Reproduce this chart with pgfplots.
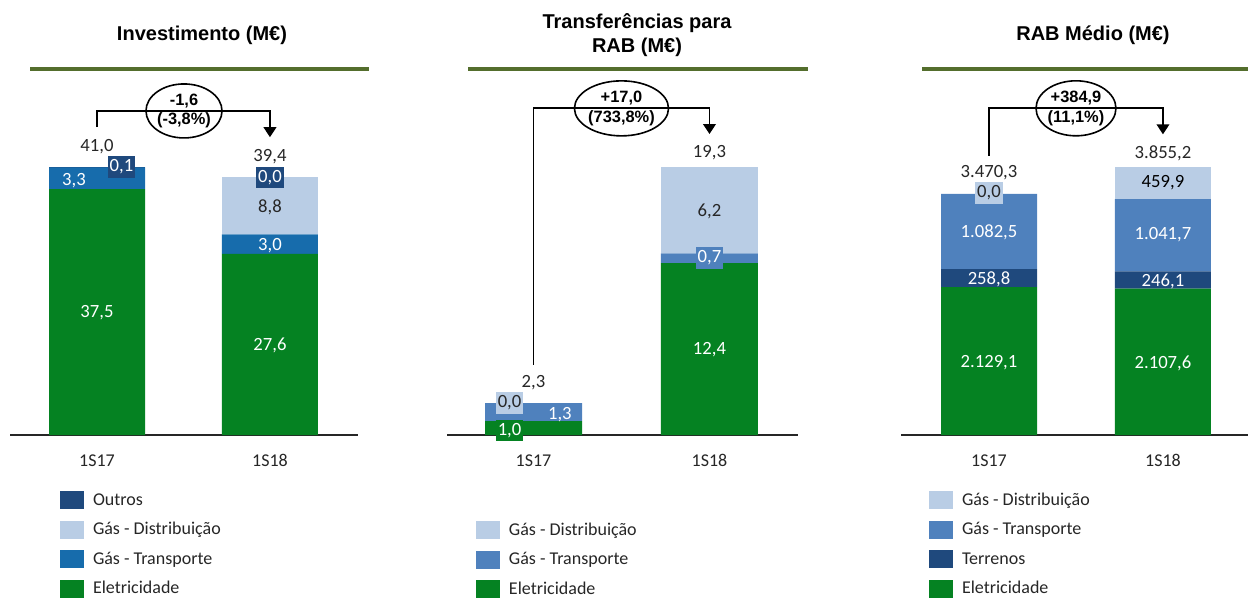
\documentclass[border=0pt]{standalone}
\usepackage{pgfplots}
\pgfplotsset{compat=1.18}
\usepackage{fontspec}
\setmainfont{Carlito}
\newfontfamily\arialf{Liberation Sans}
\usetikzlibrary{shapes.geometric,arrows.meta}

\definecolor{cGreen}{RGB}{5,130,34}
\definecolor{cTransA}{RGB}{23,108,172}
\definecolor{cTrans}{RGB}{79,129,189}
\definecolor{cDist}{RGB}{185,205,229}
\definecolor{cNavy}{RGB}{31,73,125}
\definecolor{cOlive}{RGB}{84,110,45}
\definecolor{cText}{RGB}{38,38,38}

\pgfplotsset{
  panel/.style={
    scale only axis, clip=false,
    ybar stacked, ymin=0, enlargelimits=false,
    axis y line=none, ytick=\empty, scaled y ticks=false,
    axis x line*=bottom,
    x axis line style={-, line width=1.4pt, color=black!85},
    xtick={0,1}, xticklabels={1S17,1S18},
    major tick length=0pt,
    xticklabel style={font=\fontsize{13.5}{16}\selectfont, text=cText, anchor=base, yshift=-23.9pt},
    legend cell align=left,
    reverse legend,
    legend style={draw=none, fill=none, inner sep=0pt, outer sep=0pt, anchor=north west,
      font=\fontsize{13.5}{16}\selectfont, row sep=8.6pt, column sep=6.75pt,
      nodes={inner sep=0pt, text=cText}},
    legend image code/.code={\fill[#1,draw=none] (0pt,-6.75pt) rectangle (18pt,6.75pt);},
  },
}
\tikzset{
  lbl/.style={font=\fontsize{14}{16}\selectfont, text=cText, inner sep=0pt},
  wlbl/.style={lbl, text=white},
  bx/.style={lbl, minimum width=20.5pt, minimum height=16pt, inner sep=0pt},
  ell/.style={draw=black, line width=1.2pt, fill=white, ellipse, inner sep=0pt, align=center,
    font=\arialf\bfseries\fontsize{12.3}{14.5}\selectfont},
  brk/.style={line width=1.3pt, -{Triangle[width=9.5pt,length=7.5pt]}},
  titlef/.style={font=\arialf\bfseries\fontsize{15}{18}\selectfont, text=black, align=center},
}

\begin{document}
\begin{tikzpicture}
\useasboundingbox (0,0) rectangle (936pt,447.75pt);

% ---------- Panel 1: Investimento ----------
\begin{axis}[panel, at={(7.5pt,121.5pt)}, anchor=south west,
  width=261pt, height=246pt, xmin=-0.503, xmax=1.509, ymax=50, bar width=72pt,
  legend style={at={(0.1437,-0.1715)}}]
\addplot[fill=cGreen, draw=none] coordinates {(0,37.5) (1,27.6)};
\addlegendentry{Eletricidade}
\addplot[fill=cTransA, draw=none] coordinates {(0,3.3) (1,3.0)};
\addlegendentry{Gás - Transporte}
\addplot[fill=cDist, draw=none] coordinates {(0,0.0) (1,8.8)};
\addlegendentry{Gás - Distribuição}
\addplot[fill=cNavy, draw=none] coordinates {(0,0.1) (1,0.0)};
\addlegendentry{Outros}
\coordinate (A1) at (axis cs:0,43.9);
\coordinate (A2) at (axis cs:1,42.4);
\coordinate (A3) at (axis cs:0,18.6);
\coordinate (A4) at (axis cs:-0.133,38.7);
\coordinate (A5) at (axis cs:0.1416,40.85);
\coordinate (A6) at (axis cs:1,13.6);
\coordinate (A7) at (axis cs:1,28.8);
\coordinate (A8) at (axis cs:1,34.75);
\coordinate (A9) at (axis cs:1,39.25);
\draw[brk] (axis cs:0,46.95) |- (axis cs:1,49.4) -- (axis cs:1,45.4);
\node[ell, minimum width=54pt, minimum height=40.5pt] at (axis cs:0.503,49.4) {-1,6\\(-3,8\%)};
\end{axis}
\node[lbl] at (A1) {41,0};
\node[lbl] at (A2) {39,4};
\node[wlbl] at (A3) {37,5};
\node[wlbl] at (A4) {3,3};
\node[bx, fill=cNavy, text=white] at (A5) {0,1};
\node[wlbl] at (A6) {27,6};
\node[wlbl] at (A7) {3,0};
\node[lbl] at (A8) {8,8};
\node[bx, fill=cNavy, text=white] at (A9) {0,0};

% ---------- Panel 2: Transferencias ----------
\begin{axis}[panel, at={(335.25pt,121.5pt)}, anchor=south west,
  width=263.25pt, height=260.06pt, xmin=-0.4915, xmax=1.503, ymax=25, bar width=72.75pt,
  legend style={at={(0.0826,-0.249)}}]
\addplot[fill=cGreen, draw=none] coordinates {(0,1.0) (1,12.4)};
\addlegendentry{Eletricidade}
\addplot[fill=cTrans, draw=none] coordinates {(0,1.3) (1,0.7)};
\addlegendentry{Gás - Transporte}
\addplot[fill=cDist, draw=none] coordinates {(0,0.0) (1,6.2)};
\addlegendentry{Gás - Distribuição}
\coordinate (B1) at (axis cs:0,3.75);
\coordinate (B2) at (axis cs:1,20.33);
\coordinate (B3) at (axis cs:1,6.13);
\coordinate (B4) at (axis cs:1,16.15);
\coordinate (B5) at (axis cs:1,12.76);
\coordinate (B6) at (axis cs:0.15,1.44);
\coordinate (B7) at (axis cs:-0.136,2.31);
\coordinate (B8) at (axis cs:-0.136,0.32);
\draw[brk] (axis cs:0,5.05) |- (axis cs:1,23.55) -- (axis cs:1,21.7);
\node[ell, minimum width=68.25pt, minimum height=41.25pt] at (axis cs:0.5,23.55) {+17,0\\(733,8\%)};
\end{axis}
\node[lbl] at (B1) {2,3};
\node[lbl] at (B2) {19,3};
\node[wlbl] at (B3) {12,4};
\node[lbl] at (B4) {6,2};
\node[bx, fill=cTrans, text=white] at (B5) {0,7};
\node[wlbl] at (B6) {1,3};
\node[bx, fill=cDist] at (B7) {0,0};
\node[bx, fill=cGreen, text=white] at (B8) {1,0};

% ---------- Panel 3: RAB Medio ----------
\begin{axis}[panel, at={(675.75pt,121.5pt)}, anchor=south west,
  width=260.25pt, height=260.6pt, xmin=-0.506, xmax=1.489, ymax=5000, bar width=72pt,
  legend style={at={(0.0807,-0.162)}}]
\addplot[fill=cGreen, draw=none] coordinates {(0,2129.1) (1,2107.6)};
\addlegendentry{Eletricidade}
\addplot[fill=cNavy, draw=none] coordinates {(0,258.8) (1,246.1)};
\addlegendentry{Terrenos}
\addplot[fill=cTrans, draw=none] coordinates {(0,1082.5) (1,1041.7)};
\addlegendentry{Gás - Transporte}
\addplot[fill=cDist, draw=none] coordinates {(0,0.0) (1,459.9)};
\addlegendentry{Gás - Distribuição}
\coordinate (C1) at (axis cs:0,3770);
\coordinate (C2) at (axis cs:1,4058);
\coordinate (C3) at (axis cs:0,3482);
\coordinate (C4) at (axis cs:0,2921);
\coordinate (C5) at (axis cs:0,2245);
\coordinate (C6) at (axis cs:0,1036);
\coordinate (C7) at (axis cs:1,3626);
\coordinate (C8) at (axis cs:1,2878);
\coordinate (C9) at (axis cs:1,2216);
\coordinate (C10) at (axis cs:1,1036);
\draw[brk] (axis cs:0,4019) |- (axis cs:1,4701) -- (axis cs:1,4327);
\node[ell, minimum width=58.5pt, minimum height=41.25pt] at (axis cs:0.5,4701) {+384,9\\(11,1\%)};
\end{axis}
\node[lbl] at (C1) {3.470,3};
\node[lbl] at (C2) {3.855,2};
\node[bx, fill=cDist] at (C3) {0,0};
\node[wlbl] at (C4) {1.082,5};
\node[wlbl] at (C5) {258,8};
\node[wlbl] at (C6) {2.129,1};
\node[lbl, text=black] at (C7) {459,9};
\node[wlbl] at (C8) {1.041,7};
\node[wlbl] at (C9) {246,1};
\node[wlbl] at (C10) {2.107,6};

% ---------- Titles and rules ----------
\begin{scope}[x=0.75pt, y=-0.75pt, yshift=447.75pt]
\node[titlef] at (202,35) {Investimento (M€)};
\node[titlef] at (637,35) {Transferências para\\RAB (M€)};
\node[titlef] at (1093,35) {RAB Médio (M€)};
\draw[cOlive, line width=2.5pt] (30,69) -- (369,69);
\draw[cOlive, line width=2.5pt] (468,69) -- (808,69);
\draw[cOlive, line width=2.5pt] (922,69) -- (1248,69);
\end{scope}
\end{tikzpicture}
\end{document}
